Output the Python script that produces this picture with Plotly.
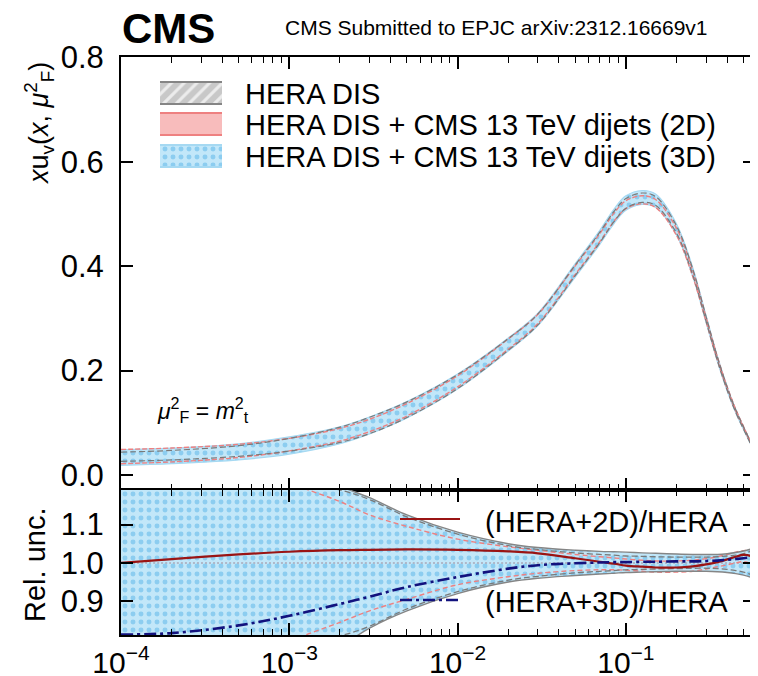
import numpy as np
import plotly.graph_objects as go

# ---------------- data ----------------
x_vals = [1e-4, 2e-4, 5e-4, 1e-3, 2e-3, 3e-3, 5e-3, 1e-2, 2e-2, 3e-2, 5e-2, 0.07, 0.085,
          0.1, 0.125, 0.15, 0.2, 0.25, 0.3, 0.35, 0.4, 0.45, 0.5, 0.55, 0.585]

# HERA DIS central xu_v
hera_central = [0.035, 0.038, 0.046, 0.058, 0.077, 0.095, 0.125, 0.179, 0.250, 0.298, 0.392, 0.455, 0.495,
                0.520, 0.531, 0.525, 0.470, 0.388, 0.298, 0.222, 0.165, 0.122, 0.090, 0.062, 0.043]

# ratios to HERA central
ratio_2d = [1.000, 1.010, 1.022, 1.029, 1.033, 1.034, 1.035, 1.034, 1.030, 1.025, 1.012, 1.003, 0.998,
            0.993, 0.990, 0.988, 0.988, 0.991, 0.996, 1.002, 1.009, 1.016, 1.021, 1.018, 1.006]
ratio_3d = [0.813, 0.817, 0.837, 0.862, 0.893, 0.912, 0.937, 0.963, 0.985, 0.994, 0.999, 1.001, 1.002,
            1.002, 1.003, 1.003, 1.004, 1.004, 1.005, 1.006, 1.008, 1.010, 1.012, 1.015, 1.018]

# band edges relative to HERA central
hera_up = [1.25, 1.24, 1.22, 1.21, 1.19, 1.165, 1.12, 1.075, 1.045, 1.035, 1.026, 1.022, 1.020,
           1.018, 1.017, 1.016, 1.015, 1.015, 1.015, 1.016, 1.018, 1.020, 1.024, 1.030, 1.034]
hera_dn = [0.75, 0.76, 0.78, 0.79, 0.81, 0.835, 0.88, 0.925, 0.955, 0.965, 0.974, 0.978, 0.980,
           0.982, 0.983, 0.984, 0.985, 0.986, 0.986, 0.985, 0.983, 0.980, 0.976, 0.970, 0.966]
band2d_up = [1.40, 1.36, 1.28, 1.21, 1.16, 1.125, 1.095, 1.062, 1.042, 1.033, 1.022, 1.016, 1.013,
             1.010, 1.007, 1.005, 1.005, 1.007, 1.011, 1.016, 1.022, 1.028, 1.032, 1.031, 1.028]
band2d_dn = [0.62, 0.66, 0.73, 0.795, 0.845, 0.875, 0.905, 0.943, 0.964, 0.973, 0.980, 0.982, 0.982,
             0.981, 0.978, 0.976, 0.976, 0.978, 0.984, 0.990, 0.995, 1.000, 1.003, 0.998, 0.985]
band3d_up = [1.38, 1.35, 1.30, 1.26, 1.20, 1.17, 1.125, 1.08, 1.05, 1.04, 1.033, 1.03, 1.029,
             1.028, 1.026, 1.025, 1.023, 1.022, 1.022, 1.022, 1.024, 1.027, 1.031, 1.036, 1.040]
band3d_dn = [0.53, 0.57, 0.63, 0.69, 0.78, 0.83, 0.875, 0.92, 0.95, 0.96, 0.967, 0.971, 0.973,
             0.975, 0.976, 0.977, 0.978, 0.978, 0.978, 0.977, 0.975, 0.972, 0.968, 0.963, 0.958]

legend_labels = ["HERA DIS", "HERA DIS + CMS 13 TeV dijets (2D)", "HERA DIS + CMS 13 TeV dijets (3D)"]
ratio_labels = ["(HERA+2D)/HERA", "(HERA+3D)/HERA"]

x_major = [1e-4, 1e-3, 1e-2, 1e-1]
x_major_text = ["10<sup>\u22124</sup>", "10<sup>\u22123</sup>", "10<sup>\u22122</sup>", "10<sup>\u22121</sup>"]
x_minor = [m * d for d in [1e-4, 1e-3, 1e-2, 1e-1] for m in range(2, 10) if m * d < 0.6]
y_top_ticks = [0.0, 0.2, 0.4, 0.6, 0.8]
y_top_text = ["0.0", "0.2", "0.4", "0.6", "0.8"]
y_bot_ticks = [0.9, 1.0, 1.1]
y_bot_text = ["0.9", "1.0", "1.1"]

# ---------------- styles ----------------
FONT = "Liberation Sans, Arial, Helvetica, sans-serif"
BLUE_BG = "#c2e7f9"
BLUE_DOT = "#8ccdf0"
BLUE_LINE = "#a6d9f2"
PINK_FILL = "#f8bcbc"
PINK_LINE = "#ee8080"
GRAY_BG = "#c8c8c8"
GRAY_LINE = "#858585"
RED = "#9a1414"
NAVY = "#12127e"

xc = np.array(hera_central)
one = np.ones(len(x_vals))

fig = go.Figure()


def band(xa, ya, lo, hi, fill=None, pattern=None):
    fig.add_trace(go.Scatter(x=x_vals, y=list(lo), mode="lines", line=dict(width=0, shape="spline"),
                             xaxis=xa, yaxis=ya, showlegend=False, hoverinfo="skip"))
    kw = {}
    if pattern is not None:
        kw["fillpattern"] = pattern
    fig.add_trace(go.Scatter(x=x_vals, y=list(hi), mode="lines", line=dict(width=0, shape="spline"),
                             fill="tonexty", fillcolor=fill, xaxis=xa, yaxis=ya,
                             showlegend=False, hoverinfo="skip", **kw))


def edge(xa, ya, yv, color, dash=None, width=1.3):
    fig.add_trace(go.Scatter(x=x_vals, y=list(yv), mode="lines",
                             line=dict(color=color, width=width, dash=dash, shape="spline"),
                             xaxis=xa, yaxis=ya, showlegend=False, hoverinfo="skip"))


blue_pattern = dict(shape=".", size=8, solidity=0.3, fgcolor=BLUE_DOT, bgcolor=BLUE_BG, fgopacity=1)
gray_pattern = dict(shape="/", size=9, solidity=0.35, fgcolor="#ececec", bgcolor=GRAY_BG, fgopacity=1)

# ---- top panel ----
band("x", "y", xc * np.array(hera_dn), xc * np.array(hera_up), fill=GRAY_BG, pattern=gray_pattern)
band("x", "y", xc * np.array(band2d_dn), xc * np.array(band2d_up), fill=PINK_FILL)
band("x", "y", xc * np.array(band3d_dn), xc * np.array(band3d_up), fill=BLUE_BG, pattern=blue_pattern)
edge("x", "y", xc * np.array(band3d_up), BLUE_LINE, width=1.2)
edge("x", "y", xc * np.array(band3d_dn), BLUE_LINE, width=1.2)
edge("x", "y", xc * np.array(band2d_up), PINK_LINE, dash="5px,2px", width=1.4)
edge("x", "y", xc * np.array(band2d_dn), PINK_LINE, dash="5px,2px", width=1.4)
edge("x", "y", xc * np.array(hera_up), "#7a7a7a", dash="6px,3px", width=1.2)
edge("x", "y", xc * np.array(hera_dn), "#7a7a7a", dash="6px,3px", width=1.2)

# ---- bottom panel ----
band("x2", "y2", band3d_dn, band3d_up, fill=BLUE_BG, pattern=blue_pattern)
edge("x2", "y2", one, "#a9a9b9", dash="2px,2px", width=1.5)
edge("x2", "y2", band2d_up, PINK_LINE, dash="5px,3px", width=1.4)
edge("x2", "y2", band2d_dn, PINK_LINE, dash="5px,3px", width=1.4)
edge("x2", "y2", hera_up, "#7a7a7a", dash="6px,3px", width=1.3)
edge("x2", "y2", hera_dn, "#7a7a7a", dash="6px,3px", width=1.3)
edge("x2", "y2", band3d_up, GRAY_LINE, width=1.4)
edge("x2", "y2", band3d_dn, GRAY_LINE, width=1.4)
edge("x2", "y2", ratio_2d, RED, width=2.2)
edge("x2", "y2", ratio_3d, NAVY, dash="12px,4px,3px,4px", width=2.6)

# ---- legend swatches (overlay axis in screen-pixel units) ----
sw_x0, sw_x1 = 160, 222
sw_rows = [(82, 104), (113, 135), (145, 167)]
sw_fill = [GRAY_BG, PINK_FILL, BLUE_BG]
sw_pat = [gray_pattern, None, blue_pattern]
sw_line = [GRAY_LINE, PINK_LINE, BLUE_LINE]
for (y0, y1), fc, pat, lc in zip(sw_rows, sw_fill, sw_pat, sw_line):
    kw = {"fillpattern": pat} if pat else {}
    fig.add_trace(go.Scatter(x=[sw_x0, sw_x1, sw_x1, sw_x0, sw_x0], y=[y0, y0, y1, y1, y0],
                             mode="lines", line=dict(width=0), fill="toself", fillcolor=fc,
                             xaxis="x3", yaxis="y3", showlegend=False, hoverinfo="skip", **kw))
    fig.add_trace(go.Scatter(x=[sw_x0, sw_x1, None, sw_x0, sw_x1], y=[y0, y0, None, y1, y1],
                             mode="lines", line=dict(width=2, color=lc),
                             xaxis="x3", yaxis="y3", showlegend=False, hoverinfo="skip"))

fig.add_trace(go.Scatter(x=[400, 460], y=[519, 519], mode="lines", line=dict(color=RED, width=2.2),
                         xaxis="x3", yaxis="y3", showlegend=False, hoverinfo="skip"))
fig.add_trace(go.Scatter(x=[400, 460], y=[600, 600], mode="lines",
                         line=dict(color=NAVY, width=2.6, dash="12px,4px,3px,4px"),
                         xaxis="x3", yaxis="y3", showlegend=False, hoverinfo="skip"))

annotations = []
for (y0, y1), lab in zip(sw_rows, legend_labels):
    annotations.append(dict(x=243, y=(y0 + y1) / 2 + 0.5, xref="x3", yref="y3", text=lab, showarrow=False,
                            xanchor="left", yanchor="middle", font=dict(size=29, color="black", family=FONT)))
for yy, lab in zip([522, 602], ratio_labels):
    annotations.append(dict(x=483, y=yy, xref="x3", yref="y3", text=lab, showarrow=False,
                            xanchor="left", yanchor="middle", font=dict(size=29, color="black", family=FONT)))
annotations.append(dict(x=155, y=410, xref="x3", yref="y3",
                        text="<i>\u03bc</i><sup>2</sup><sub>F</sub> = <i>m</i><sup>2</sup><sub>t</sub>",
                        showarrow=False, xanchor="left", yanchor="middle",
                        font=dict(size=23, color="black", family=FONT)))

# The page body has an 8px margin; the figure is sized so that it fills the 758x676 window.
OFF = 8
W, H = 758 - OFF, 676 - OFF
L, R, T, B = 121 - OFF, 3, 57 - OFF, 41
pw, ph = W - L - R, H - T - B


def px(xs):
    return (xs - OFF - L) / pw


def py(ys):
    return (H - B - (ys - OFF)) / ph


annotations.append(dict(x=px(120), y=py(28), xref="paper", yref="paper", text="<b>CMS</b>", showarrow=False,
                        xanchor="left", yanchor="middle", font=dict(size=42, color="black", family=FONT)))
annotations.append(dict(x=px(283), y=py(27), xref="paper", yref="paper",
                        text="CMS Submitted to EPJC arXiv:2312.16669v1", showarrow=False,
                        xanchor="left", yanchor="middle", font=dict(size=21, color="black", family=FONT)))
annotations.append(dict(x=px(39), y=py(124), xref="paper", yref="paper", textangle=-90,
                        text="<i>x</i>u<sub>v</sub>(<i>x</i>, <i>\u03bc</i><sup>2</sup><sub>F</sub>)",
                        showarrow=False, xanchor="center", yanchor="middle",
                        font=dict(size=27, color="black", family=FONT)))
annotations.append(dict(x=px(35), y=py(565), xref="paper", yref="paper", textangle=-90, text="Rel. unc.",
                        showarrow=False, xanchor="center", yanchor="middle",
                        font=dict(size=29, color="black", family=FONT)))

split = 145 / ph
xrange = [-4, np.log10(0.585)]
common_x = dict(type="log", range=xrange, showline=True, linecolor="black", linewidth=2, mirror="ticks",
                ticks="inside", ticklen=12, tickwidth=1.6, tickcolor="black", tickvals=x_major,
                showgrid=False, zeroline=False, automargin=False,
                minor=dict(ticks="inside", ticklen=6, tickwidth=1.4, tickcolor="black", tickvals=x_minor,
                           showgrid=False))
common_y = dict(showline=True, linecolor="black", linewidth=2, mirror="ticks", ticks="inside", ticklen=12,
                tickwidth=1.6, tickcolor="black", showgrid=False, zeroline=False, automargin=False,
                tickfont=dict(size=31, color="black", family=FONT), ticklabelstandoff=9)

fig.update_layout(
    width=W, height=H, margin=dict(l=L, r=R, t=T, b=B, autoexpand=False),
    paper_bgcolor="white", plot_bgcolor="rgba(0,0,0,0)", showlegend=False,
    font=dict(family=FONT, color="black"),
    xaxis=dict(domain=[0, 1], anchor="y", showticklabels=False, **common_x),
    yaxis=dict(domain=[split, 1], anchor="x", range=[-0.0287, 0.8005], tickvals=y_top_ticks,
               ticktext=y_top_text, **common_y),
    xaxis2=dict(domain=[0, 1], anchor="y2", ticktext=x_major_text,
                tickfont=dict(size=30, color="black", family=FONT), ticklabelstandoff=0, **common_x),
    yaxis2=dict(domain=[0, split], anchor="x2", range=[0.812, 1.19], tickvals=y_bot_ticks,
                ticktext=y_bot_text, **common_y),
    xaxis3=dict(domain=[0, 1], anchor="y3", range=[L + OFF, W - R + OFF], visible=False, fixedrange=True,
                automargin=False),
    yaxis3=dict(domain=[0, 1], anchor="x3", range=[H - B + OFF, T + OFF], visible=False, fixedrange=True,
                automargin=False),
    annotations=annotations,
)

fig.write_html("out.html")
